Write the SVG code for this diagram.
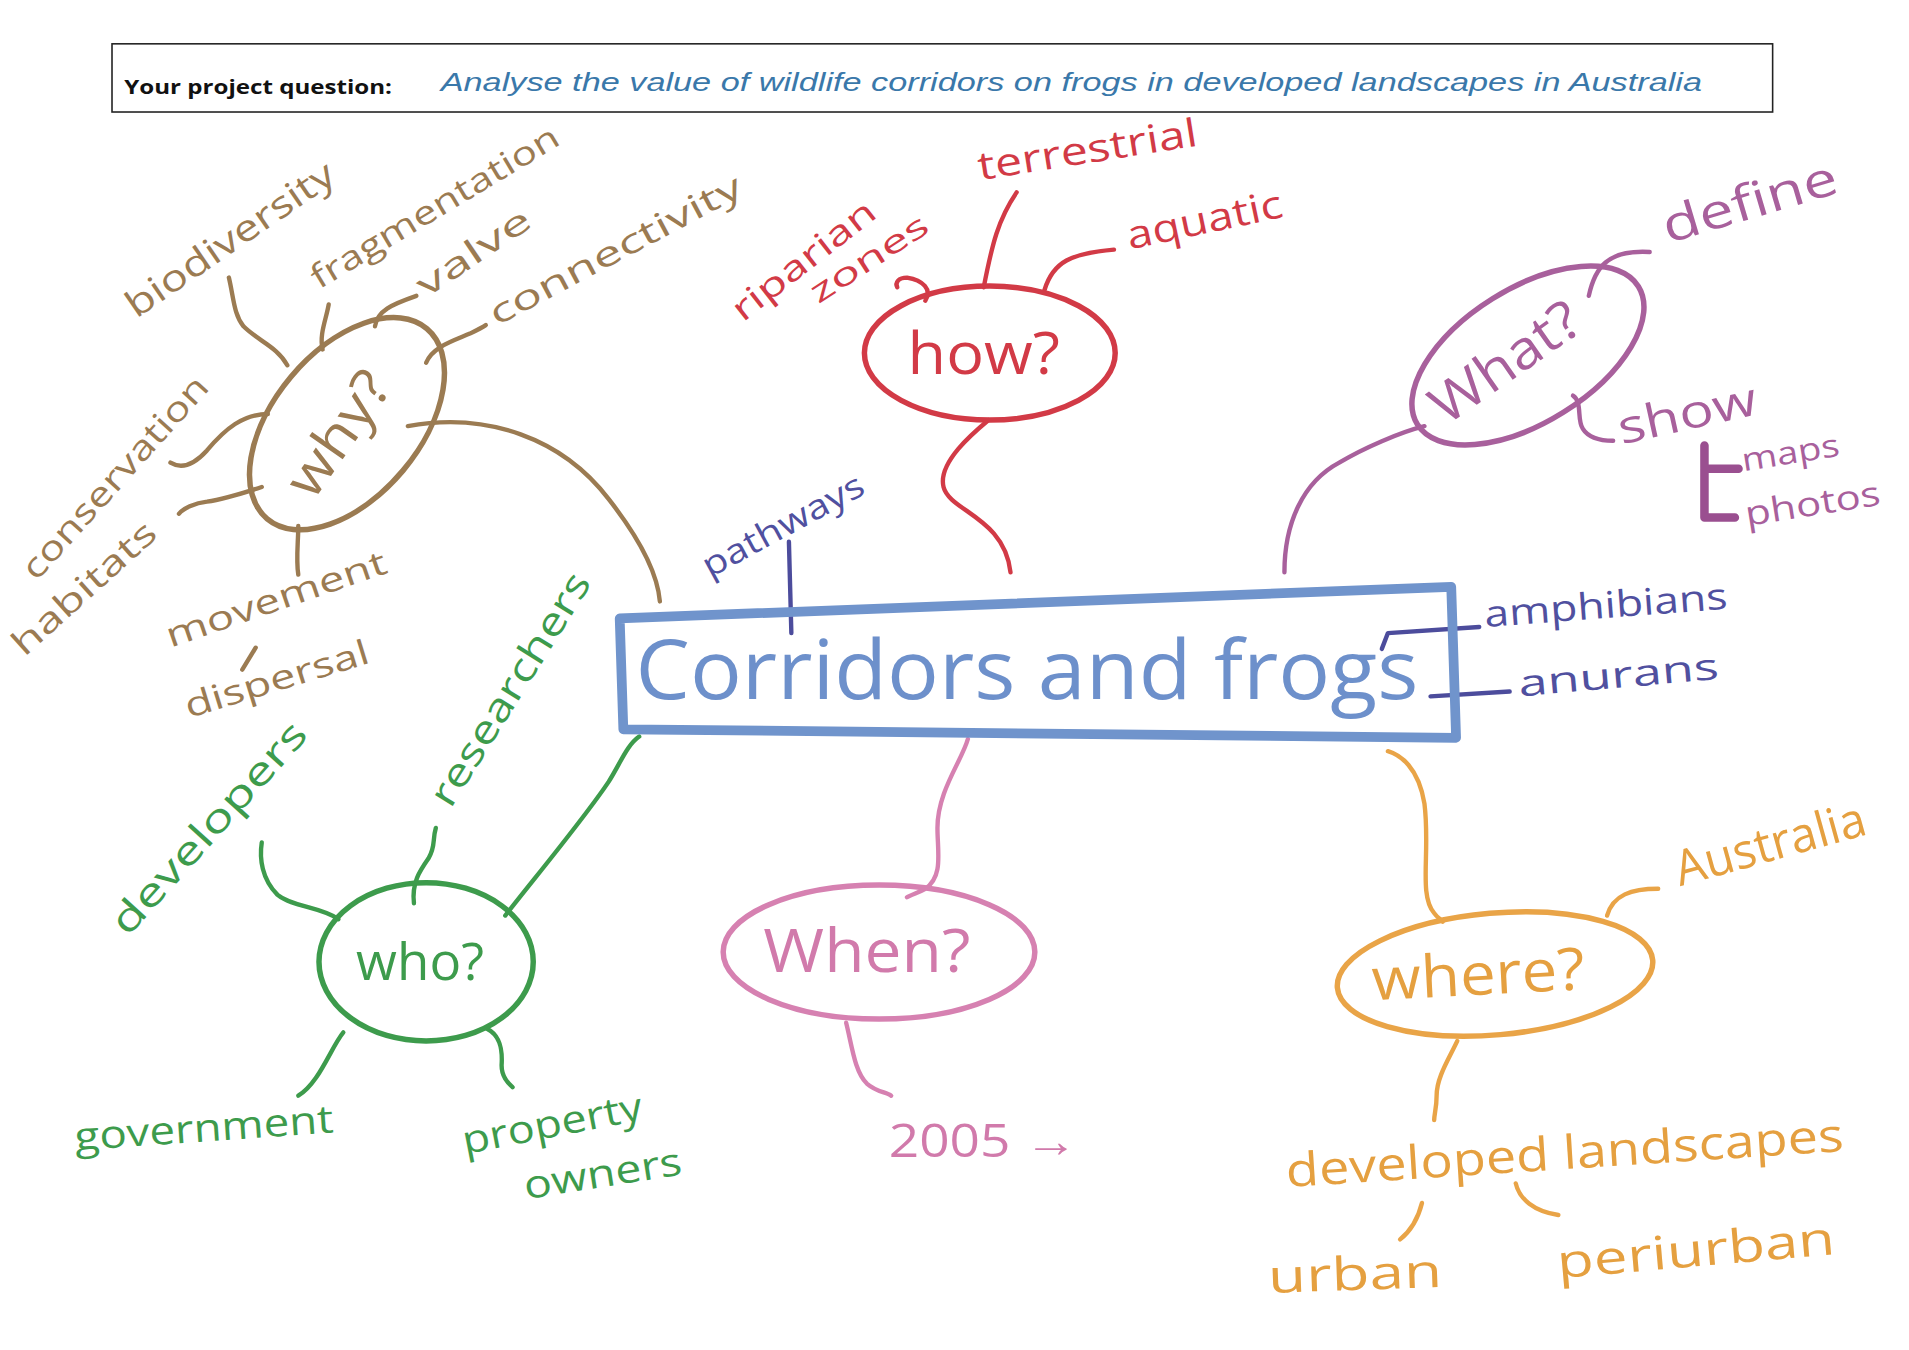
<svg xmlns="http://www.w3.org/2000/svg" width="1909" height="1350" viewBox="0 0 1909 1350">
<style>
.ln{fill:none;stroke-width:3.6;stroke-linecap:round;stroke-linejoin:round}
.hw{font-family:"Open Sans","Liberation Sans",sans-serif}
.br{stroke:#9b7b52}.brt{fill:#9b7b52}
.rd{stroke:#d23a46}.rdt{fill:#d23a46}
.pu{stroke:#a8609c}.put{fill:#a8609c}
.bl{stroke:#7094cc}.blt{fill:#6d90cb}
.db{stroke:#4c4c9c}.dbt{fill:#50509f}
.gr{stroke:#3d9b4c}.grt{fill:#3d9b4c}
.pk{stroke:#d681b1}.pkt{fill:#d17aab}
.or{stroke:#e9a447}.ort{fill:#e5a040}
.el{fill:none;stroke-width:4.5}
</style>
<rect width="1909" height="1350" fill="#ffffff"/>
<g transform="scale(1.21747)">
<g id="header">
<rect x="92" y="36" width="1364" height="56" fill="#fff" stroke="#222" stroke-width="1.3"/>
<text x="102" y="77" font-family="'Open Sans','Liberation Sans',sans-serif" font-weight="bold" font-size="16.5" fill="#111" textLength="220" lengthAdjust="spacingAndGlyphs">Your project question:</text>
<text x="362" y="75" font-family="'Liberation Sans',sans-serif" font-style="italic" font-size="21" fill="#3a78aa" textLength="1036" lengthAdjust="spacingAndGlyphs">Analyse the value of wildlife corridors on frogs in developed landscapes in Australia</text>
</g>

<g id="connectors">
<!-- why -->
<path class="ln br" d="M236 300 C228 285 212 280 200 268 C192 258 192 245 188 228"/>
<path class="ln br" d="M265 287 C262 275 268 262 270 250"/>
<path class="ln br" d="M308 268 C310 255 322 250 342 243"/>
<path class="ln br" d="M350 298 C355 285 372 280 386 274 C392 271 396 269 399 267"/>
<path class="ln br" d="M220 340 C200 340 185 352 170 370 C160 381 150 386 140 380"/>
<path class="ln br" d="M215 400 C200 405 185 410 170 412 C160 413 150 418 147 422"/>
<path class="ln br" d="M245 432 C245 445 243 460 245 472"/>
<path class="ln br" d="M210 532 L199 550"/>
<path class="ln br" d="M335 350 C400 338 462 360 500 410 C525 442 540 470 542 494"/>
<!-- how -->
<path class="ln rd" d="M760 247 C766 238 758 230 745 228 C738 228 735 232 737 236"/>
<path class="ln rd" d="M808 236 C815 200 820 180 835 158"/>
<path class="ln rd" d="M858 238 C865 215 880 208 915 205"/>
<path class="ln rd" d="M812 345 C800 355 770 380 775 400 C780 420 825 425 830 470"/>
<!-- what -->
<path class="ln pu" d="M1305 243 C1310 220 1320 205 1355 207"/>
<path class="ln pu" d="M1292 325 C1300 330 1295 345 1300 352 C1305 360 1315 362 1325 362"/>
<path class="ln pu" d="M1170 350 C1150 355 1120 368 1100 380 C1070 396 1055 430 1055 470"/>
<path fill="none" stroke="#9a4f90" stroke-width="7" stroke-linecap="round" stroke-linejoin="round" d="M1400 366 L1400 425 L1425 425 M1400 385 L1428 385"/>
<!-- central -->
<path class="ln db" d="M648 445 L650 520"/>
<path class="ln db" stroke-width="5" d="M1135 533 L1140 520 L1215 515"/>
<path class="ln db" stroke-width="5" d="M1175 572 L1240 568"/>
<!-- who -->
<path class="ln gr" d="M278 755 C265 745 240 745 228 735 C215 722 213 705 215 692"/>
<path class="ln gr" d="M340 742 C338 725 345 715 352 705 C358 695 355 690 358 680"/>
<path class="ln gr" d="M282 848 C272 860 262 890 245 900"/>
<path class="ln gr" d="M400 845 C410 850 413 860 412 875 C412 885 418 890 421 893"/>
<path class="ln gr" d="M415 752 C440 720 480 672 500 642 C510 626 515 612 525 605"/>
<!-- when -->
<path class="ln pk" d="M795 607 C790 625 770 650 770 680 C770 700 775 720 760 730 C755 733 748 735 745 737"/>
<path class="ln pk" d="M695 840 C700 860 702 880 712 890 C720 897 728 897 732 900"/>
<!-- where -->
<path class="ln or" d="M1140 617 C1150 620 1165 630 1170 660 C1175 700 1165 735 1178 750 C1180 753 1183 755 1185 757"/>
<path class="ln or" d="M1320 752 C1325 735 1340 730 1362 730"/>
<path class="ln or" d="M1197 855 C1190 870 1180 885 1180 900 C1180 910 1178 915 1178 920"/>
<path class="ln or" d="M1168 988 C1165 1000 1160 1010 1150 1018"/>
<path class="ln or" d="M1245 972 C1248 985 1260 995 1280 998"/>
</g>

<g id="central">
<path d="M509 508 L1192 482 L1196 606 L512 599 Z" fill="none" stroke="#7094cc" stroke-width="8" stroke-linejoin="round"/>
<text class="hw blt" x="522" y="574" font-size="68" textLength="643" lengthAdjust="spacingAndGlyphs">Corridors and frogs</text>
</g>
<g id="pathways"><text class="hw dbt" font-size="28" transform="translate(583 475) rotate(-28.5)" textLength="147" lengthAdjust="spacingAndGlyphs">pathways</text></g>
<g id="amphibians"><text class="hw dbt" font-size="30" transform="translate(1220 515) rotate(-4.3)" textLength="200" lengthAdjust="spacingAndGlyphs">amphibians</text></g>
<g id="anurans"><text class="hw dbt" font-size="30" transform="translate(1248 572) rotate(-5)" textLength="165" lengthAdjust="spacingAndGlyphs">anurans</text></g>

<g id="why">
<ellipse class="el br" cx="285" cy="348" rx="102" ry="60" transform="rotate(-50 285 348)"/>
<text class="hw brt" font-size="44" text-anchor="middle" transform="translate(290 365) rotate(-55)" textLength="115" lengthAdjust="spacingAndGlyphs">why?</text>
</g>
<g id="biodiversity"><text class="hw brt" font-size="30" transform="translate(112 262) rotate(-34.5)" textLength="201" lengthAdjust="spacingAndGlyphs">biodiversity</text></g>
<g id="fragmentation"><text class="hw brt" font-size="27" transform="translate(262 238) rotate(-31)" textLength="233" lengthAdjust="spacingAndGlyphs">fragmentation</text></g>
<g id="valve"><text class="hw brt" font-size="28" transform="translate(350 245) rotate(-34)" textLength="107" lengthAdjust="spacingAndGlyphs">valve</text></g>
<g id="connectivity"><text class="hw brt" font-size="28" transform="translate(408 268) rotate(-28)" textLength="231" lengthAdjust="spacingAndGlyphs">connectivity</text></g>
<g id="conservation"><text class="hw brt" font-size="28" transform="translate(30 478) rotate(-48)" textLength="214" lengthAdjust="spacingAndGlyphs">conservation</text></g>
<g id="habitats"><text class="hw brt" font-size="28" transform="translate(20 540) rotate(-42)" textLength="149" lengthAdjust="spacingAndGlyphs">habitats</text></g>
<g id="movement"><text class="hw brt" font-size="28" transform="translate(140 532) rotate(-19)" textLength="190" lengthAdjust="spacingAndGlyphs">movement</text></g>
<g id="dispersal"><text class="hw brt" font-size="28" transform="translate(155 590) rotate(-17)" textLength="157" lengthAdjust="spacingAndGlyphs">dispersal</text></g>

<g id="how">
<ellipse class="el rd" cx="813" cy="290" rx="103" ry="55"/>
<text class="hw rdt" font-size="48" text-anchor="middle" x="808" y="307" textLength="125" lengthAdjust="spacingAndGlyphs">how?</text>
</g>
<g id="terrestrial"><text class="hw rdt" font-size="32" transform="translate(805 148) rotate(-9)" textLength="182" lengthAdjust="spacingAndGlyphs">terrestrial</text></g>
<g id="aquatic"><text class="hw rdt" font-size="32" transform="translate(928 205) rotate(-12)" textLength="130" lengthAdjust="spacingAndGlyphs">aquatic</text></g>
<g id="riparian"><text class="hw rdt" font-size="28" transform="translate(610 265) rotate(-38)" textLength="142" lengthAdjust="spacingAndGlyphs">riparian</text></g>
<g id="zones"><text class="hw rdt" font-size="26" transform="translate(672 250) rotate(-33)" textLength="111" lengthAdjust="spacingAndGlyphs">zones</text></g>

<g id="what">
<ellipse class="el pu" cx="1255" cy="292" rx="107" ry="55" transform="rotate(-32 1255 292)"/>
<text class="hw put" font-size="44" text-anchor="middle" transform="translate(1245 310) rotate(-35)" textLength="140" lengthAdjust="spacingAndGlyphs">What?</text>
</g>
<g id="define"><text class="hw put" font-size="40" transform="translate(1370 200) rotate(-16.5)" textLength="148" lengthAdjust="spacingAndGlyphs">define</text></g>
<g id="show"><text class="hw put" font-size="38" transform="translate(1332 365) rotate(-12.5)" textLength="116" lengthAdjust="spacingAndGlyphs">show</text></g>
<g id="maps"><text class="hw put" font-size="26" transform="translate(1432 387) rotate(-9)" textLength="81" lengthAdjust="spacingAndGlyphs">maps</text></g>
<g id="photos"><text class="hw put" font-size="28" transform="translate(1435 432) rotate(-9)" textLength="112" lengthAdjust="spacingAndGlyphs">photos</text></g>

<g id="who">
<ellipse class="el gr" cx="350" cy="790" rx="88" ry="65"/>
<text class="hw grt" font-size="42" text-anchor="middle" x="345" y="805" textLength="105" lengthAdjust="spacingAndGlyphs">who?</text>
</g>
<g id="developers"><text class="hw grt" font-size="32" transform="translate(105 770) rotate(-48)" textLength="223" lengthAdjust="spacingAndGlyphs">developers</text></g>
<g id="researchers"><text class="hw grt" font-size="32" transform="translate(370 665) rotate(-58)" textLength="220" lengthAdjust="spacingAndGlyphs">researchers</text></g>
<g id="government"><text class="hw grt" font-size="32" transform="translate(62 945) rotate(-4)" textLength="213" lengthAdjust="spacingAndGlyphs">government</text></g>
<g id="property-owners">
<text class="hw grt" font-size="32" transform="translate(382 948) rotate(-11)" textLength="150" lengthAdjust="spacingAndGlyphs">property</text>
<text class="hw grt" font-size="32" transform="translate(432 985) rotate(-9)" textLength="131" lengthAdjust="spacingAndGlyphs">owners</text>
</g>

<g id="when">
<ellipse class="el pk" cx="722" cy="782" rx="128" ry="55"/>
<text class="hw pkt" font-size="50" text-anchor="middle" x="712" y="798" textLength="170" lengthAdjust="spacingAndGlyphs">When?</text>
</g>
<g id="year"><text class="hw pkt" font-size="38" x="730" y="950" textLength="155" lengthAdjust="spacingAndGlyphs">2005 →</text></g>

<g id="where">
<ellipse class="el or" cx="1228" cy="800" rx="130" ry="50" transform="rotate(-5 1228 800)"/>
<text class="hw ort" font-size="48" text-anchor="middle" transform="translate(1215 817) rotate(-3)" textLength="175" lengthAdjust="spacingAndGlyphs">where?</text>
</g>
<g id="australia"><text class="hw ort" font-size="40" transform="translate(1380 728) rotate(-15.5)" textLength="161" lengthAdjust="spacingAndGlyphs">Australia</text></g>
<g id="developed-landscapes"><text class="hw ort" font-size="38" transform="translate(1057 975) rotate(-3.7)" textLength="459" lengthAdjust="spacingAndGlyphs">developed landscapes</text></g>
<g id="urban"><text class="hw ort" font-size="38" transform="translate(1042 1062) rotate(-2)" textLength="143" lengthAdjust="spacingAndGlyphs">urban</text></g>
<g id="periurban"><text class="hw ort" font-size="38" transform="translate(1280 1050) rotate(-5)" textLength="229" lengthAdjust="spacingAndGlyphs">periurban</text></g>
</g>
</svg>
